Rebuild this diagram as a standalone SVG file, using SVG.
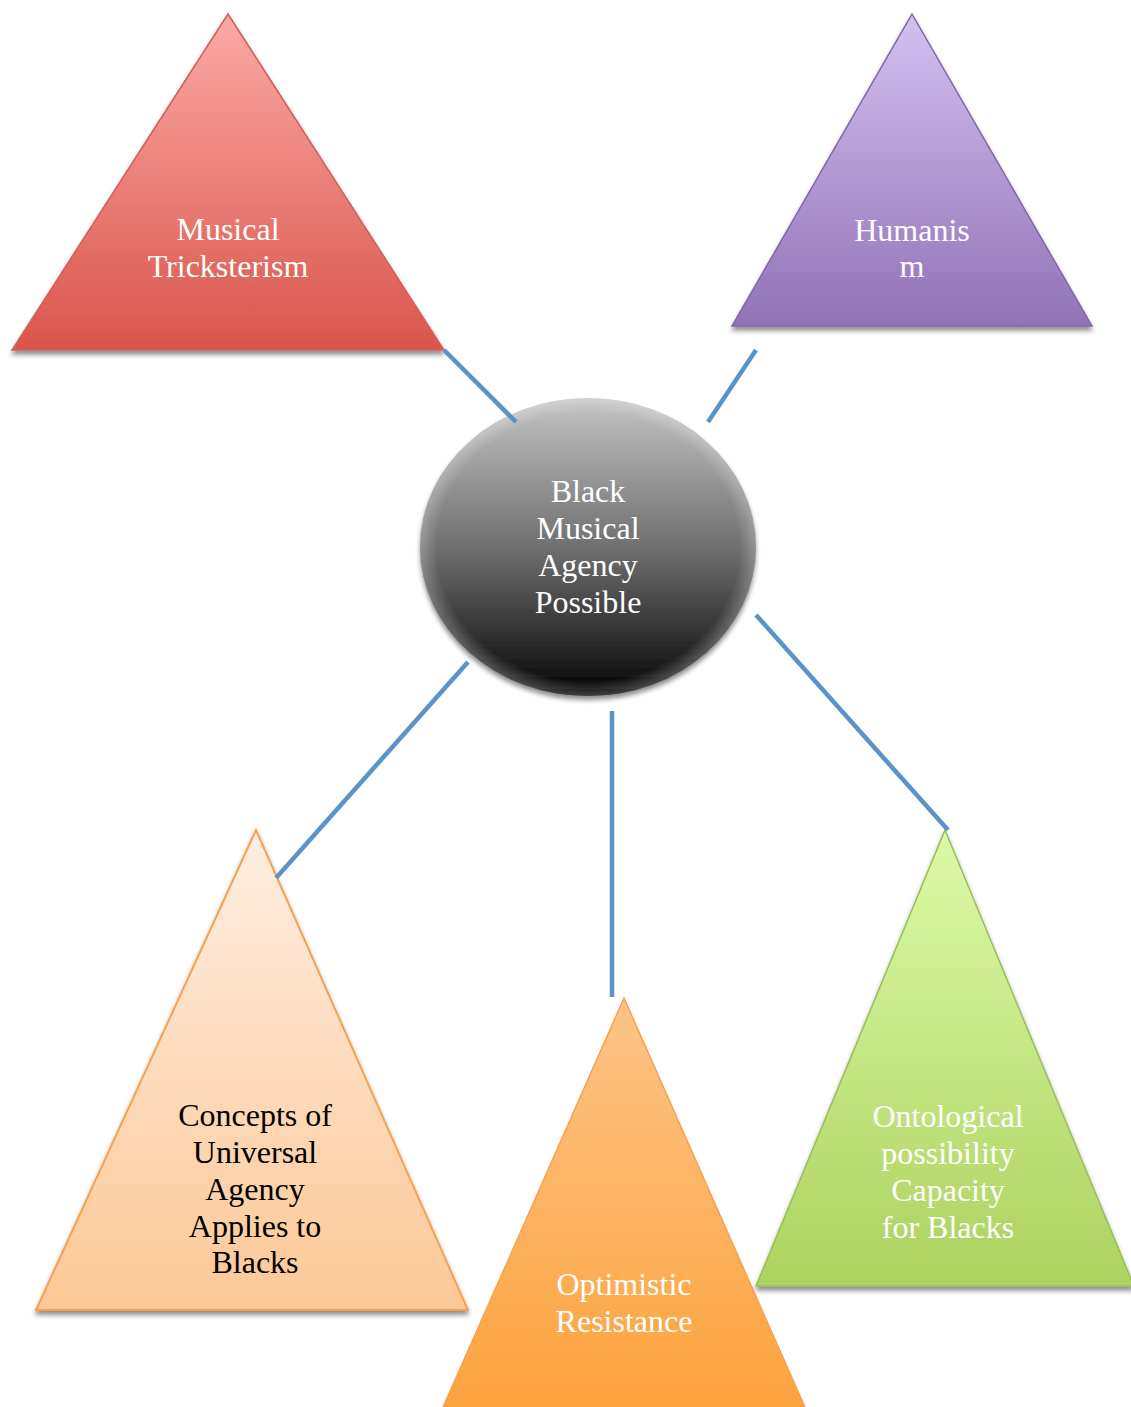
<svg xmlns="http://www.w3.org/2000/svg" width="1131" height="1407" viewBox="0 0 1131 1407">
<style>
.lbl{font-family:"Liberation Serif","Times New Roman",serif;font-size:32px;text-anchor:middle;fill:#ffffff}
.dark{fill:#000000}
.conn{stroke:#5b93c9;stroke-width:4.5;fill:none}
</style>
<defs>
<filter id="sh" x="-10%" y="-10%" width="120%" height="125%">
<feGaussianBlur in="SourceAlpha" stdDeviation="2.5"/>
<feOffset dx="0" dy="4" result="b"/>
<feComponentTransfer><feFuncA type="linear" slope="0.45"/></feComponentTransfer>
<feMerge><feMergeNode/><feMergeNode in="SourceGraphic"/></feMerge>
</filter>
<linearGradient id="gRed" x1="0" y1="0" x2="0" y2="1"><stop offset="0" stop-color="#fcaaa6"/><stop offset="1" stop-color="#d9554b"/></linearGradient>
<linearGradient id="gPur" x1="0" y1="0" x2="0" y2="1"><stop offset="0" stop-color="#d3c1f1"/><stop offset="1" stop-color="#9272b7"/></linearGradient>
<linearGradient id="gPeach" x1="0" y1="0" x2="0" y2="1"><stop offset="0" stop-color="#feeee2"/><stop offset="1" stop-color="#fcc896"/></linearGradient>
<linearGradient id="gOr" x1="0" y1="0" x2="0" y2="1"><stop offset="0" stop-color="#fdc487"/><stop offset="1" stop-color="#fca23c"/></linearGradient>
<linearGradient id="gGr" x1="0" y1="0" x2="0" y2="1"><stop offset="0" stop-color="#dcfaa6"/><stop offset="1" stop-color="#acd25f"/></linearGradient>
<linearGradient id="gCirc" x1="0" y1="0" x2="0" y2="1"><stop offset="0" stop-color="#c4c4c4"/><stop offset="0.5" stop-color="#707070"/><stop offset="0.92" stop-color="#161616"/><stop offset="1" stop-color="#000000"/></linearGradient>
<radialGradient id="gRim" cx="0.5" cy="0.5" r="0.5"><stop offset="0.9" stop-color="#ffffff" stop-opacity="0"/><stop offset="1" stop-color="#ffffff" stop-opacity="0.25"/></radialGradient>
</defs>
<g id="node-tricksterism">
<polygon points="228,14 444,350 12,350" fill="url(#gRed)" stroke="#d0605a" stroke-width="1.5" filter="url(#sh)"/>
<text class="lbl" x="228" y="240">Musical</text>
<text class="lbl" x="228" y="277">Tricksterism</text>
</g>
<g id="node-humanism">
<polygon points="912,14 1092,326 732,326" fill="url(#gPur)" stroke="#8466a8" stroke-width="1.5" filter="url(#sh)"/>
<text class="lbl" x="912" y="241">Humanis</text>
<text class="lbl" x="912" y="277">m</text>
</g>
<g id="node-center">
<ellipse cx="588" cy="547" rx="168" ry="149" fill="url(#gCirc)" filter="url(#sh)"/>
<ellipse cx="588" cy="547" rx="168" ry="149" fill="url(#gRim)"/>
<text class="lbl" x="588" y="502">Black</text>
<text class="lbl" x="588" y="539">Musical</text>
<text class="lbl" x="588" y="576">Agency</text>
<text class="lbl" x="588" y="613">Possible</text>
</g>
<g id="node-concepts">
<polygon points="256,830 468,1310 36,1310" fill="url(#gPeach)" stroke="#f7a050" stroke-width="2" filter="url(#sh)"/>
<text class="lbl dark" x="255" y="1126">Concepts of</text>
<text class="lbl dark" x="255" y="1163">Universal</text>
<text class="lbl dark" x="255" y="1200">Agency</text>
<text class="lbl dark" x="255" y="1237">Applies to</text>
<text class="lbl dark" x="255" y="1273">Blacks</text>
</g>
<g id="node-optimistic">
<polygon points="624,998 808,1414 440,1414" fill="url(#gOr)" stroke="#f7a050" stroke-width="1.5"/>
<text class="lbl" x="624" y="1295">Optimistic</text>
<text class="lbl" x="624" y="1332">Resistance</text>
</g>
<g id="node-ontological">
<polygon points="945,830 1134,1286 756,1286" fill="url(#gGr)" stroke="#9cbd5b" stroke-width="1.5" filter="url(#sh)"/>
<text class="lbl" x="948" y="1127">Ontological</text>
<text class="lbl" x="948" y="1164">possibility</text>
<text class="lbl" x="948" y="1201">Capacity</text>
<text class="lbl" x="948" y="1238">for Blacks</text>
</g>
<g id="connectors">
<line class="conn" x1="444" y1="350" x2="516" y2="422"/>
<line class="conn" x1="756" y1="350" x2="708" y2="422"/>
<line class="conn" x1="468" y1="662" x2="276" y2="878"/>
<line class="conn" x1="612" y1="711" x2="612" y2="997"/>
<line class="conn" x1="756" y1="615" x2="948" y2="830"/>
</g>
</svg>
